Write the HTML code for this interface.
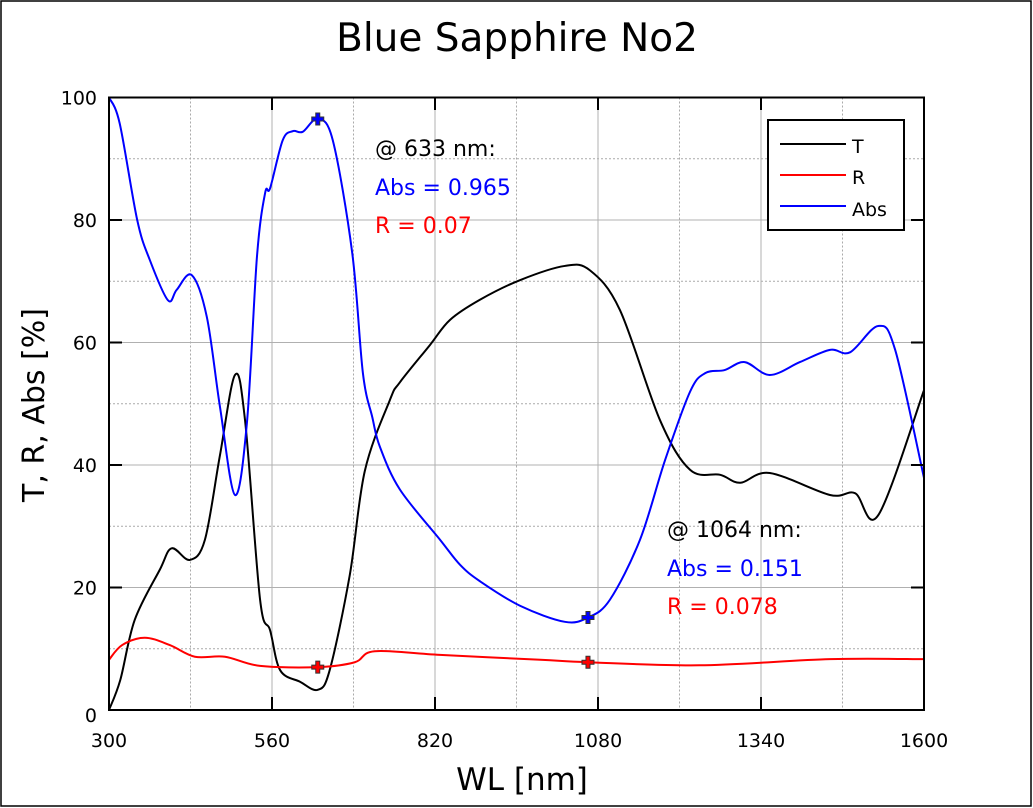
<!DOCTYPE html>
<html><head><meta charset="utf-8"><style>
body{margin:0;background:#fff;}
svg{display:block;font-family:"DejaVu Sans","Liberation Sans",sans-serif;}
</style></head><body>
<svg id="chart" width="1033" height="808" viewBox="0 0 1033 808" xmlns="http://www.w3.org/2000/svg">
<rect x="1" y="1" width="1030" height="805" fill="#fff" stroke="#000" stroke-width="1.5"/>
<text x="517" y="51" font-size="39" text-anchor="middle">Blue Sapphire No2</text>
<g id="grid"></g>
<g id="series"></g>
<rect x="109" y="97.5" width="815" height="612.5" fill="none" stroke="#000" stroke-width="2"/>
<g id="axes"></g>
<text x="522" y="790" font-size="31" text-anchor="middle">WL [nm]</text>
<text transform="translate(44,405) rotate(-90)" font-size="30" text-anchor="middle">T, R, Abs [%]</text>
<g font-size="22">
<text x="375" y="156" fill="#000">@ 633 nm:</text>
<text x="375" y="195" fill="#0000ff">Abs = 0.965</text>
<text x="375" y="233" fill="#ff0000">R = 0.07</text>
</g>
<g font-size="22">
<text x="667" y="537" fill="#000">@ 1064 nm:</text>
<text x="667" y="576" fill="#0000ff">Abs = 0.151</text>
<text x="667" y="614" fill="#ff0000">R = 0.078</text>
</g>
<g>
<rect x="768" y="120" width="136" height="110" fill="#fff" stroke="#000" stroke-width="2"/>
<line x1="780" y1="144" x2="846" y2="144" stroke="#000" stroke-width="2"/>
<text x="852" y="153" font-size="19">T</text>
<line x1="780" y1="175" x2="846" y2="175" stroke="#ff0000" stroke-width="2"/>
<text x="852" y="184" font-size="19">R</text>
<line x1="780" y1="206" x2="846" y2="206" stroke="#0000ff" stroke-width="2"/>
<text x="852" y="216" font-size="19">Abs</text>
</g>
</svg>
<script>
const xTicks=[300,560,820,1080,1340,1600];
const yTicks=[0,20,40,60,80,100];
const absWL=[300,317,345,365,394,408,432,456,477,501,520,536,549,557,577,593,609,633,657,688,705,720,732,764,828,860,892,956,1027,1064,1099,1147,1187,1227,1251,1282,1314,1354,1402,1450,1482,1527,1554,1600];
const absVal=[100,95.8,80,73.5,66.9,68.6,71,64.2,49.5,35.1,46.9,74,84.4,85.2,93,94.5,94.4,96.5,93,74.6,55,47.8,43,36,27.8,23.7,21,17,14.4,15.1,18,27.8,40.8,52,55,55.5,56.8,54.7,56.8,58.8,58.4,62.7,58.8,37.9];
const tWL=[300,318,341,381,400,429,453,477,501,517,541,557,573,605,633,652,684,708,748,764,812,844,892,956,1027,1067,1115,1179,1227,1275,1307,1354,1450,1490,1527,1600];
const tVal=[0,4.9,14.7,22.9,26.4,24.5,27.8,41.6,54.7,47.3,18,13,6.5,4.6,3.3,6.5,22,39,50.6,53.5,59.6,63.7,67,70.2,72.5,71.8,65.3,47.3,39.2,38.4,37.1,38.7,35.1,35.4,31.8,52.2];
const rWL=[300,321,357,397,437,485,541,633,692,724,828,988,1064,1242,1450,1600];
const rVal=[8.2,10.6,11.8,10.6,8.7,8.7,7.2,7.0,7.8,9.6,9.0,8.2,7.8,7.3,8.3,8.3];
const markWL=[633,1064,633,1064];
const markVal=[96.5,15.1,7.0,7.8];
const markColor=['#0000ff','#0000ff','#ff0000','#ff0000'];

const X=v=>109+(v-300)*815/1300;
const Y=v=>710-v*6.125;
const NS='http://www.w3.org/2000/svg';
function mk(tag,attrs,parent){const e=document.createElementNS(NS,tag);for(const k in attrs)e.setAttribute(k,attrs[k]);parent.appendChild(e);return e;}
const grid=document.getElementById('grid'),axes=document.getElementById('axes'),series=document.getElementById('series');
for(let i=0;i<xTicks.length-1;i++){const m=(xTicks[i]+xTicks[i+1])/2;
 const l=mk('line',{x1:X(m),x2:X(m),y1:97.5,y2:710,stroke:'#aaa','stroke-dasharray':'2,2'},grid);
 
 }
for(let i=0;i<yTicks.length-1;i++){const m=(yTicks[i]+yTicks[i+1])/2;
 const l=mk('line',{x1:109,x2:924,y1:Y(m),y2:Y(m),stroke:'#aaa','stroke-dasharray':'2,2'},grid);
 
 }
xTicks.forEach(v=>{
 const g=mk('line',{x1:X(v),x2:X(v),y1:97.5,y2:710,stroke:'#b0b0b0'},grid);
 
 
 mk('line',{x1:X(v),x2:X(v),y1:710,y2:697,stroke:'#000','stroke-width':2},axes);
 mk('line',{x1:X(v),x2:X(v),y1:97.5,y2:110,stroke:'#000','stroke-width':2},axes);
 const t=mk('text',{x:X(v),y:747,'font-size':19,'text-anchor':'middle'},axes);t.textContent=v;
 
 });
yTicks.forEach(v=>{
 const g=mk('line',{x1:109,x2:924,y1:Y(v),y2:Y(v),stroke:'#b0b0b0'},grid);
 
 
 mk('line',{x1:109,x2:122,y1:Y(v),y2:Y(v),stroke:'#000','stroke-width':2},axes);
 mk('line',{x1:924,x2:911,y1:Y(v),y2:Y(v),stroke:'#000','stroke-width':2},axes);
 const t=mk('text',{x:97,y:Y(v)+(v===0?12:7),'font-size':19,'text-anchor':'end'},axes);t.textContent=v;
 
 });
function smooth(xs,ys){const p=xs.map((x,i)=>[X(x),Y(ys[i])]);let d='M'+p[0][0]+','+p[0][1];
 for(let i=0;i<p.length-1;i++){const p0=p[i-1]||p[i],p1=p[i],p2=p[i+1],p3=p[i+2]||p2;
  d+=' C'+(p1[0]+(p2[0]-p0[0])/6)+','+(p1[1]+(p2[1]-p0[1])/6)+' '+(p2[0]-(p3[0]-p1[0])/6)+','+(p2[1]-(p3[1]-p1[1])/6)+' '+p2[0]+','+p2[1];}
 return d;}
const lt=mk('path',{d:smooth(tWL,tVal),fill:'none',stroke:'#000','stroke-width':2},series);


const lr=mk('path',{d:smooth(rWL,rVal),fill:'none',stroke:'#ff0000','stroke-width':2},series);


const la=mk('path',{d:smooth(absWL,absVal),fill:'none',stroke:'#0000ff','stroke-width':2},series);


markWL.forEach((w,i)=>{const cx=X(w),cy=Y(markVal[i]);
 const m=mk('path',{d:`M${cx-2},${cy-6}h4v4h4v4h-4v4h-4v-4h-4v-4h4z`,fill:markColor[i],stroke:'#333','stroke-width':1},series);
 
 });
</script>
</body></html>
